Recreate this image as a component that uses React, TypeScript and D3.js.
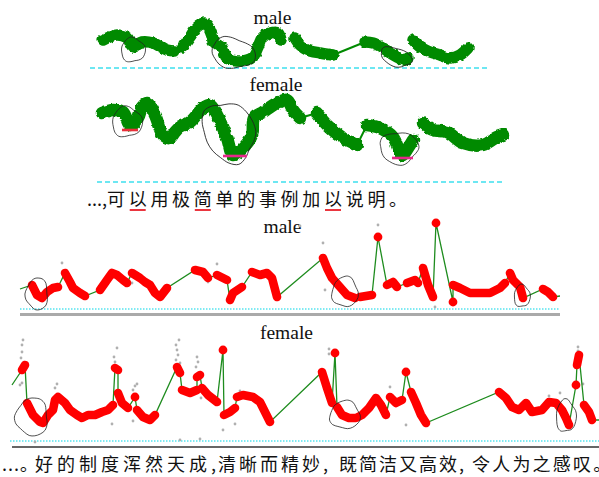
import React from 'react';
import * as d3 from 'd3';

type P = [number, number];

// time in 10 ms frames, f0 in Hz
const topMaleSegs: P[][] = [
  [[15, 118], [29, 123], [39, 120], [45, 111], [54, 116], [65, 115], [79, 108], [87, 107]],
  [[95, 111], [102, 121], [109, 131], [117, 135], [124, 123], [125, 116]],
  [[130, 113], [134, 110], [139, 100], [149, 97], [159, 98], [165, 101], [170, 111], [174, 120], [182, 125], [190, 125], [193, 118]],
  [[207, 120], [212, 113], [219, 108], [232, 105], [245, 103]],
  [[277, 116], [285, 115], [295, 110], [302, 105], [309, 101], [317, 98], [320, 100]],
  [[325, 118], [332, 111], [342, 106], [352, 103], [362, 100], [372, 103], [380, 110]],
];
const topMaleLinks: P[] = [[0, 1], [3, 4]];
const topMaleRings: number[][] = [[45, 108, 12, 12, 0], [145, 105, 22, 15, 12], [308, 101, 16, 9, 18]];

const topFemaleSegs: P[][] = [
  [[14, 249], [25, 252], [35, 250], [42, 237], [50, 244], [54, 255], [59, 259], [67, 247], [75, 227], [82, 224], [87, 230],
   [92, 235], [102, 240], [115, 254], [122, 257], [129, 247], [139, 224], [145, 207], [155, 214], [164, 227], [166, 244],
   [175, 250], [189, 259], [199, 262], [205, 252], [212, 244]],
  [[229, 249], [239, 237], [255, 224], [269, 217]],
  [[279, 237], [292, 234], [305, 225], [314, 207], [320, 214], [325, 222]],
  [[335, 239], [345, 232], [359, 230], [375, 219], [395, 217], [409, 225], [415, 227]],
];
const topFemaleLinks: P[] = [[0, 1], [1, 2]];
const topFemaleRings: number[][] = [[39, 240, 15, 15, 0], [141, 230, 25, 31, -25], [311, 214, 19, 16, 0]];
const topFemaleMarks: number[][] = [[34, 50, 232], [135, 159, 206], [304, 325, 204]];
const markColors = ['#e8303a', '#e6288a', '#e6288a'];

const botMaleLead: P[] = [[10, 110]];
const botMaleTail: P[] = [[550, 103]];
const botMaleSegs: P[][] = [
  [[22, 114], [27, 104], [32, 101], [37, 107], [43, 111], [48, 112]],
  [[55, 126], [60, 117], [63, 111], [70, 106], [75, 103]],
  [[90, 109], [97, 119], [102, 126], [107, 124], [113, 119], [117, 116]],
  [[122, 126], [130, 121], [135, 117], [140, 114], [145, 106], [150, 102], [157, 111]],
  [[185, 129], [193, 127], [198, 121]],
  [[207, 124], [217, 119]],
  [[220, 99], [223, 106], [232, 112]],
  [[242, 127], [250, 124], [257, 126], [262, 121], [267, 102]],
  [[313, 141], [317, 131], [322, 121], [330, 112], [337, 104], [345, 101]],
  [[350, 102], [362, 104]],
  [[368, 162]],
  [[377, 114], [383, 117], [387, 112]],
  [[397, 116], [405, 119], [408, 116]],
  [[413, 131], [418, 114], [423, 102]],
  [[426, 176]],
  [[443, 97]],
  [[443, 114], [450, 111], [460, 106], [480, 106], [490, 111], [495, 116]],
  [[500, 126], [503, 119], [510, 112], [513, 101]],
  [[533, 110], [538, 107], [543, 102]],
];
const botMaleGray: P[] = [[52, 136], [207, 135], [122, 116], [198, 117], [290, 173], [313, 156], [315, 109], [368, 174], [425, 92]];
const botMaleRings: number[][] = [[27, 105, 11, 16, 0], [335, 107, 13, 15, 0], [512, 103, 8, 11, 0]];

const botFemaleLead: P[] = [[2, 216]];
const botFemaleTail: P[] = [[589, 181]];
const botFemaleSegs: P[][] = [
  [[12, 231], [15, 236]],
  [[17, 198], [23, 186], [30, 179], [33, 178], [38, 186], [43, 191], [45, 201], [48, 204], [55, 198], [60, 191], [67, 186],
   [72, 183], [78, 186], [85, 186], [92, 189], [98, 191], [103, 196]],
  [[105, 233], [108, 231]],
  [[108, 208], [112, 198], [118, 193]],
  [[125, 204]],
  [[127, 191], [133, 184], [140, 181], [145, 186]],
  [[167, 234], [170, 228]],
  [[172, 211], [180, 208], [187, 211]],
  [[187, 224], [190, 226]],
  [[192, 213], [198, 206], [207, 199]],
  [[213, 251]],
  [[214, 186], [220, 189], [225, 193]],
  [[227, 204], [233, 206], [243, 204], [250, 199], [255, 189], [260, 179]],
  [[312, 229], [317, 213], [322, 198]],
  [[325, 248]],
  [[327, 194], [332, 186], [339, 183], [346, 183], [352, 186], [359, 193], [366, 203], [371, 196], [376, 186]],
  [[380, 204], [386, 198], [392, 201]],
  [[396, 229]],
  [[401, 209], [406, 198], [411, 186], [416, 178]],
  [[489, 209], [496, 203], [502, 194], [509, 191], [516, 198], [522, 189], [532, 191], [539, 199], [546, 198], [552, 191], [556, 183], [559, 176]],
  [[566, 216]],
  [[567, 236], [568, 241], [569, 246]],
  [[574, 196], [579, 189], [582, 181]],
];
const botFemaleGray: P[] = [
  [12, 256], [12, 249], [11, 243], [13, 261], [12, 218], [10, 216], [107, 253], [104, 244], [105, 239], [125, 215], [123, 211],
  [127, 217], [45, 213], [47, 217], [166, 256], [167, 251], [168, 246], [166, 241], [170, 238], [169, 261], [187, 244], [188, 239],
  [186, 234], [190, 210], [191, 203], [170, 161], [190, 162], [102, 177], [123, 180], [213, 171], [225, 177], [230, 210],
  [319, 252], [319, 247], [380, 214], [396, 176], [539, 205], [550, 208], [568, 254], [568, 250], [573, 217], [25, 159],
];
const botFemaleRings: number[][] = [[22, 184, 16, 19, 0], [335, 186, 15, 14, 0], [556, 185, 10, 16, 0]];

const line1 = '可以用极简单的事例加以说明。';
const line1Marked = [1, 4, 10];
const line2Phrases = ['好的制度浑然天成', '清晰而精妙', '既简洁又高效', '令人为之感叹'];

const topX = d3.scaleLinear().domain([0, 420]).range([88, 508]);
const topMaleY = d3.scaleLinear().domain([90, 160]).range([68, -2]);
const topFemaleY = d3.scaleLinear().domain([180, 280]).range([182, 82]);
const botX = d3.scaleLinear().domain([0, 590]).range([10, 600]);
const botMaleY = d3.scaleLinear().domain([90, 190]).range([309, 209]);
const botFemaleY = d3.scaleLinear().domain([160, 260]).range([441, 341]);

const GREEN = '#008a00';
const CJK = '"Noto Sans CJK SC", sans-serif';
const SERIF = '"Liberation Serif", "Times New Roman", serif';

// hand drawn loop around a point
function ring(cx: number, cy: number, rx: number, ry: number, rot: number, k: number) {
  const pts: P[] = d3.range(18).map(i => {
    const a = (i / 18) * Math.PI * 2;
    const w = 1 + 0.07 * Math.sin(3 * a + k) + 0.04 * Math.cos(5 * a + 2 * k);
    return [rx * w * Math.cos(a), ry * w * Math.sin(a)];
  });
  const d = d3.line().curve(d3.curveCardinalClosed)(pts) || '';
  return <path key={`r${k}`} d={d} transform={`translate(${cx},${cy}) rotate(${rot})`} fill="none" stroke="#222" strokeWidth={0.8} />;
}

function GreenPanel({ segs, links, rings, y, width }: { segs: P[][]; links: P[]; rings: number[][]; y: d3.ScaleLinear<number, number>; width: number }) {
  const line = d3.line<P>().x(d => topX(d[0])).y(d => y(d[1])).curve(d3.curveCatmullRom);
  return (
    <g>
      {links.map(([a, b], i) => {
        const p = segs[a][segs[a].length - 1];
        const q = segs[b][0];
        return <line key={`l${i}`} x1={topX(p[0])} y1={y(p[1])} x2={topX(q[0])} y2={y(q[1])} stroke={GREEN} strokeWidth={2} />;
      })}
      <g filter="url(#rough)">
        {segs.map((s, i) => (
          <path key={i} d={line(s) || ''} fill="none" stroke={GREEN} strokeWidth={width} strokeLinecap="round" strokeLinejoin="round" />
        ))}
      </g>
      {rings.map((r, i) => ring(topX(r[0]), y(r[1]), r[2], r[3], r[4], i + 1))}
    </g>
  );
}

function RedPanel({ lead, segs, tail, gray, rings, y }: { lead: P[]; segs: P[][]; tail: P[]; gray: P[]; rings: number[][]; y: d3.ScaleLinear<number, number> }) {
  const line = d3.line<P>().x(d => botX(d[0])).y(d => y(d[1]));
  const all = [...lead, ...segs.flat(), ...tail];
  return (
    <g>
      {gray.map((d, i) => <circle key={`g${i}`} cx={botX(d[0])} cy={y(d[1])} r={1.4} fill="#b0b0b0" />)}
      <path d={line(all) || ''} fill="none" stroke="#1e8c1e" strokeWidth={1.3} />
      {segs.map((s, i) =>
        s.length === 1 ? (
          <circle key={i} cx={botX(s[0][0])} cy={y(s[0][1])} r={4.4} fill="#ff0000" />
        ) : (
          <path key={i} d={line(s) || ''} fill="none" stroke="#ff0000" strokeWidth={8.6} strokeLinecap="round" strokeLinejoin="round" />
        )
      )}
      {rings.map((r, i) => ring(botX(r[0]), y(r[1]), r[2], r[3], r[4], i + 5))}
    </g>
  );
}

export default function App() {
  const pitch1 = 21.7;
  const x1 = 107;
  const phraseX = [35, 218, 339, 472];
  const phraseLs = [4, 3, 2, 2.2];
  return (
    <svg width={599} height={477} style={{ position: 'absolute', left: 0, top: 0, background: '#fff' }}>
      <defs>
        <filter id="rough" x="-5%" y="-30%" width="110%" height="160%">
          <feTurbulence type="fractalNoise" baseFrequency="0.22" numOctaves={2} seed={4} result="n" />
          <feDisplacementMap in="SourceGraphic" in2="n" scale={3.5} xChannelSelector="R" yChannelSelector="G" />
        </filter>
      </defs>
      <rect width={599} height={477} fill="#fff" />

      {/* top: male */}
      <text x={272.5} y={24} textAnchor="middle" fontFamily={SERIF} fontSize={19.5} fill="#111">male</text>
      <line x1={topX(2)} x2={topX(400)} y1={topMaleY(90)} y2={topMaleY(90)} stroke="#3ee0ee" strokeWidth={1.5} strokeDasharray="5,3" />
      <GreenPanel segs={topMaleSegs} links={topMaleLinks} rings={topMaleRings} y={topMaleY} width={11.5} />

      {/* top: female */}
      <text x={276} y={91} textAnchor="middle" fontFamily={SERIF} fontSize={19.5} fill="#111">female</text>
      <line x1={topX(9)} x2={topX(415)} y1={topFemaleY(180)} y2={topFemaleY(180)} stroke="#3ee0ee" strokeWidth={1.5} strokeDasharray="5,3" />
      <GreenPanel segs={topFemaleSegs} links={topFemaleLinks} rings={topFemaleRings} y={topFemaleY} width={12.5} />
      {topFemaleMarks.map((m, i) => (
        <line key={`m${i}`} x1={topX(m[0])} x2={topX(m[1])} y1={topFemaleY(m[2])} y2={topFemaleY(m[2])} stroke={markColors[i]} strokeWidth={2.6} />
      ))}

      {/* line of text */}
      <text x={87} y={206} fontFamily={CJK} fontSize={18} fill="#111">...,</text>
      <text x={x1} y={206} fontFamily={CJK} fontSize={18} fill="#111" letterSpacing={pitch1 - 18}>{line1}</text>
      {line1Marked.map(i => (
        <line key={`u${i}`} x1={x1 + i * pitch1 + 1} x2={x1 + i * pitch1 + 17} y1={210} y2={210} stroke="#e8202a" strokeWidth={1.8} />
      ))}

      {/* bottom: male */}
      <text x={282.5} y={233} textAnchor="middle" fontFamily={SERIF} fontSize={19.5} fill="#111">male</text>
      <line x1={botX(10)} x2={botX(550)} y1={botMaleY(90)} y2={botMaleY(90)} stroke="#55e4f0" strokeWidth={1.3} strokeDasharray="1.5,1.5" />
      <line x1={botX(10)} x2={botX(550)} y1={botMaleY(84.5)} y2={botMaleY(84.5)} stroke="#aaaaaa" strokeWidth={3} />
      <RedPanel lead={botMaleLead} segs={botMaleSegs} tail={botMaleTail} gray={botMaleGray} rings={botMaleRings} y={botMaleY} />

      {/* bottom: female */}
      <text x={286.5} y={339} textAnchor="middle" fontFamily={SERIF} fontSize={19.5} fill="#111">female</text>
      <line x1={botX(0)} x2={botX(590)} y1={botFemaleY(160)} y2={botFemaleY(160)} stroke="#55e4f0" strokeWidth={1.3} strokeDasharray="1.5,1.5" />
      <line x1={botX(2)} x2={botX(590)} y1={botFemaleY(154)} y2={botFemaleY(154)} stroke="#333" strokeWidth={1.6} />
      <RedPanel lead={botFemaleLead} segs={botFemaleSegs} tail={botFemaleTail} gray={botFemaleGray} rings={botFemaleRings} y={botFemaleY} />

      {/* bottom line of text */}
      <text x={2} y={471} fontFamily={CJK} fontSize={18} fill="#111" letterSpacing={1}>...｡</text>
      {line2Phrases.map((p, i) => (
        <text key={`p${i}`} x={phraseX[i]} y={471} fontFamily={CJK} fontSize={18} fill="#111" letterSpacing={phraseLs[i]}>
          {i < line2Phrases.length - 1 ? p + ',' : p + '。'}
        </text>
      ))}
    </svg>
  );
}
